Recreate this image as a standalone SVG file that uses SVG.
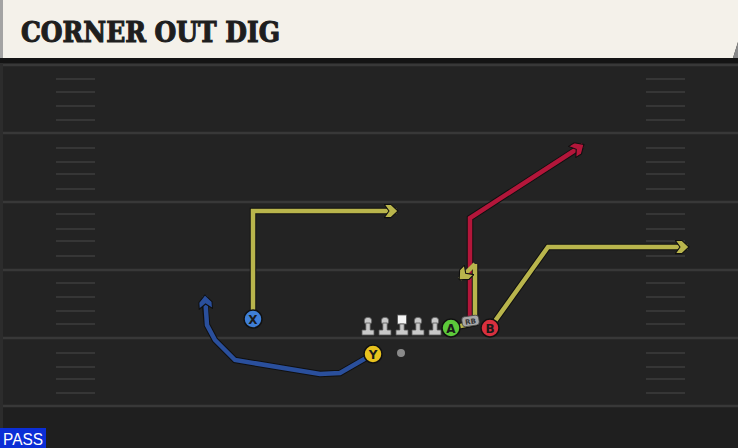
<svg xmlns="http://www.w3.org/2000/svg" width="738" height="448" viewBox="0 0 738 448">
<style>
.yl{stroke:#383838;stroke-width:2.5;fill:none}
.hm{stroke:#363636;stroke-width:2;fill:none}
.out{fill:none;stroke:#101010;stroke-width:6.5;stroke-linejoin:miter;stroke-linecap:butt}
.rt{fill:none;stroke-width:4.5;stroke-linejoin:miter;stroke-linecap:butt}
.ylw{stroke:#b9b54c}
.blu{stroke:#2a4f9c}
.red{stroke:#b3163a}
.pc{stroke:#111;stroke-width:1.5}
.pt{font-family:"DejaVu Sans","Liberation Sans",sans-serif;font-weight:bold;font-size:12px;fill:#1a1a1a;text-anchor:middle}
.ol{fill:#c9c9c9;stroke:#555;stroke-width:0.8}
</style>
<defs>
<marker id="ay" viewBox="0 0 14 14" refX="12.5" refY="7" markerWidth="15" markerHeight="15" markerUnits="userSpaceOnUse" orient="auto"><path d="M0.5,0.8 L6.8,0.8 L13.5,7 L6.8,13.2 L0.5,13.2 L5,7 Z" fill="#b9b54c" stroke="#101010" stroke-width="1"/></marker>
<marker id="ab" viewBox="0 0 14 14" refX="12.5" refY="7" markerWidth="15" markerHeight="15" markerUnits="userSpaceOnUse" orient="auto"><path d="M0.5,0.8 L6.8,0.8 L13.5,7 L6.8,13.2 L0.5,13.2 L5,7 Z" fill="#2a4f9c" stroke="#101010" stroke-width="1"/></marker>
<marker id="ar" viewBox="0 0 14 14" refX="12.5" refY="7" markerWidth="15" markerHeight="15" markerUnits="userSpaceOnUse" orient="auto"><path d="M0.5,0.8 L6.8,0.8 L13.5,7 L6.8,13.2 L0.5,13.2 L5,7 Z" fill="#b3163a" stroke="#101010" stroke-width="1"/></marker>
</defs>
<rect x="0" y="0" width="738" height="448" fill="#232323"/>
<rect x="0" y="406" width="738" height="42" fill="#1f1f1f"/>
<g id="field">
<path class="yl" d="M0,65H738M0,133H738M0,202H738M0,270H738M0,338H738M0,406H738"/>
<path class="hm" d="M56,79H95M56,92H95M56,106H95M56,120H95M56,148H95M56,162H95M56,174H95M56,189H95M56,214H95M56,229H95M56,241H95M56,256H95M56,283H95M56,297H95M56,311H95M56,324H95M56,353H95M56,367H95M56,379H95M56,393H95"/>
<path class="hm" d="M646,79H685M646,92H685M646,106H685M646,120H685M646,148H685M646,162H685M646,174H685M646,189H685M646,214H685M646,229H685M646,241H685M646,256H685M646,283H685M646,297H685M646,311H685M646,324H685M646,353H685M646,367H685M646,379H685M646,393H685"/>
<rect x="0" y="60" width="3" height="388" fill="#2c2c2c"/>
</g>
<g id="title">
<rect x="0" y="58" width="738" height="5" fill="#141414"/>
<polygon points="3,0 738,0 738,42 733,58 3,58" fill="#f4f1ea"/>
<polygon points="738,42 738,58 733,58" fill="#8a8a8a"/>
<rect x="0" y="0" width="3" height="58" fill="#a3a3a3"/>
<text x="21" y="42" font-family="'DejaVu Serif Condensed','DejaVu Serif',serif" font-weight="bold" font-size="27" fill="#1e1e1e" stroke="#1e1e1e" stroke-width="1" textLength="259" lengthAdjust="spacingAndGlyphs">CORNER OUT DIG</text>
</g>
<g id="connectors">
<path class="out" d="M253,319V211H390"/>
<path class="rt ylw" d="M253,319V211H397" marker-end="url(#ay)"/>
<path class="out" d="M373,354L340,373L320,374L235,360L215,340L207,325L205,304"/>
<path class="rt blu" d="M373,354L340,373L320,374L235,360L215,340L207,325L205,296" marker-end="url(#ab)"/>
<path class="out" d="M470,320V218L577,149"/>
<path class="rt red" d="M470,320V218L583,145" marker-end="url(#ar)"/>
<path class="out" d="M490,328L548,247H681"/>
<path class="rt ylw" d="M490,328L548,247H688" marker-end="url(#ay)"/>
<path class="out" d="M451,328L475,323V264"/>
<path class="rt ylw" d="M451,328L475,323V264"/>
<path class="rt ylw" d="M475,264L460,279" stroke-width="2" marker-end="url(#ay)"/>
</g>
<g id="line">
<g id="ol1" transform="translate(368,321)"><circle cx="0" cy="0" r="3.8" class="ol"/><path class="ol" d="M-2.2,2 H2.2 V9 H6 V14 H-6 V9 H-2.2 Z"/></g>
<g id="ol2" transform="translate(385,321)"><circle cx="0" cy="0" r="3.8" class="ol"/><path class="ol" d="M-2.2,2 H2.2 V9 H6 V14 H-6 V9 H-2.2 Z"/></g>
<g id="center" transform="translate(402,321)"><rect x="-4.5" y="-6" width="9" height="9" fill="#f5f5f5" stroke="#555" stroke-width="0.8"/><path class="ol" d="M-2.2,3 H2.2 V9 H6 V14 H-6 V9 H-2.2 Z"/></g>
<g id="ol4" transform="translate(418,321)"><circle cx="0" cy="0" r="3.8" class="ol"/><path class="ol" d="M-2.2,2 H2.2 V9 H6 V14 H-6 V9 H-2.2 Z"/></g>
<g id="ol5" transform="translate(435,321)"><circle cx="0" cy="0" r="3.8" class="ol"/><path class="ol" d="M-2.2,2 H2.2 V9 H6 V14 H-6 V9 H-2.2 Z"/></g>
</g>
<g id="ball"><circle cx="401" cy="353" r="4" fill="#8a8a8a"/></g>
<g id="rb" transform="rotate(-8 470 321)"><rect x="462" y="316" width="17" height="10" rx="3" fill="#a8a8a8" stroke="#444" stroke-width="0.8"/><text x="470.5" y="324" font-family="'DejaVu Sans',sans-serif" font-weight="bold" font-size="7" fill="#333" text-anchor="middle">RB</text></g>
<g id="X"><circle cx="253" cy="319" r="9" fill="#3f7fd6" class="pc"/><text class="pt" x="253" y="323.5">X</text></g>
<g id="Y"><circle cx="373" cy="354" r="9" fill="#e8c21e" class="pc"/><text class="pt" x="373" y="358.5">Y</text></g>
<g id="A"><circle cx="451" cy="328" r="9" fill="#5cc93a" class="pc"/><text class="pt" x="451" y="332.5">A</text></g>
<g id="B"><circle cx="490" cy="328" r="9" fill="#d9303e" class="pc"/><text class="pt" x="490" y="332.5">B</text></g>
<g id="pass"><rect x="0" y="428" width="46" height="20" fill="#0b2ed6"/><text x="3" y="445" font-family="'Liberation Sans',Arial,sans-serif" font-size="16" fill="#ffffff" textLength="40" lengthAdjust="spacingAndGlyphs">PASS</text></g>
</svg>
